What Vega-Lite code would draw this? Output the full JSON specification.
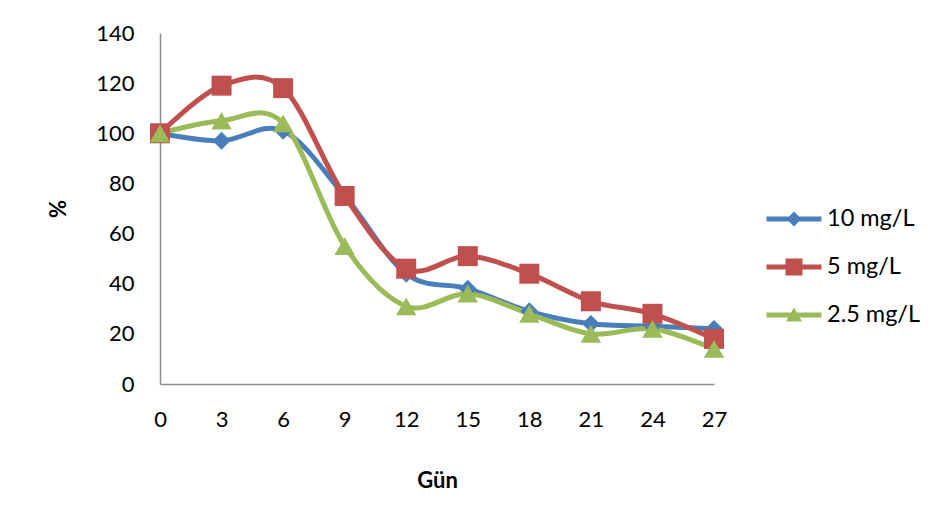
{
  "$schema": "https://vega.github.io/schema/vega-lite/v6.json",
  "width": 554,
  "height": 351,
  "autosize": {"type": "none"},
  "padding": {"left": 160, "top": 33, "right": 230, "bottom": 140},
  "background": "white",
  "config": {
    "view": {"stroke": null},
    "font": "Lato",
    "axis": {"labelFont": "Lato", "titleFont": "Lato", "labelColor": "black", "titleColor": "black", "grid": false, "ticks": false, "tickSize": 0, "domainColor": "#8c8c8c", "domainWidth": 1.5, "labelFontSize": 22, "titleFontSize": 22, "titleFontWeight": "bold"},
    "legend": {"labelFont": "Lato", "labelFontSize": 23.5, "labelColor": "black"}
  },
  "data": {
    "values": [
      {"day": 0, "series": "10 mg/L", "value": 100},
      {"day": 3, "series": "10 mg/L", "value": 97},
      {"day": 6, "series": "10 mg/L", "value": 101},
      {"day": 9, "series": "10 mg/L", "value": 75},
      {"day": 12, "series": "10 mg/L", "value": 44},
      {"day": 15, "series": "10 mg/L", "value": 38},
      {"day": 18, "series": "10 mg/L", "value": 29},
      {"day": 21, "series": "10 mg/L", "value": 24},
      {"day": 24, "series": "10 mg/L", "value": 23},
      {"day": 27, "series": "10 mg/L", "value": 22},
      {"day": 0, "series": "5 mg/L", "value": 100},
      {"day": 3, "series": "5 mg/L", "value": 119},
      {"day": 6, "series": "5 mg/L", "value": 118},
      {"day": 9, "series": "5 mg/L", "value": 75},
      {"day": 12, "series": "5 mg/L", "value": 46},
      {"day": 15, "series": "5 mg/L", "value": 51},
      {"day": 18, "series": "5 mg/L", "value": 44},
      {"day": 21, "series": "5 mg/L", "value": 33},
      {"day": 24, "series": "5 mg/L", "value": 28},
      {"day": 27, "series": "5 mg/L", "value": 18},
      {"day": 0, "series": "2.5 mg/L", "value": 100},
      {"day": 3, "series": "2.5 mg/L", "value": 105},
      {"day": 6, "series": "2.5 mg/L", "value": 104},
      {"day": 9, "series": "2.5 mg/L", "value": 55},
      {"day": 12, "series": "2.5 mg/L", "value": 31},
      {"day": 15, "series": "2.5 mg/L", "value": 36},
      {"day": 18, "series": "2.5 mg/L", "value": 28},
      {"day": 21, "series": "2.5 mg/L", "value": 20},
      {"day": 24, "series": "2.5 mg/L", "value": 22},
      {"day": 27, "series": "2.5 mg/L", "value": 14}
    ]
  },
  "encoding": {
    "x": {"field": "day", "type": "quantitative", "scale": {"domain": [0, 27], "nice": false, "zero": false},
      "axis": {"title": "Gün", "values": [0, 3, 6, 9, 12, 15, 18, 21, 24, 27], "labelPadding": 25, "titleBaseline": "middle", "titleY": 96, "labelFlush": false, "labelOverlap": false}},
    "y": {"field": "value", "type": "quantitative", "scale": {"domain": [0, 140], "nice": false},
      "axis": {"title": "%", "values": [0, 20, 40, 60, 80, 100, 120, 140], "labelPadding": 26, "titleBaseline": "middle", "titleX": -102, "titleAngle": -90, "labelFlush": false, "labelOverlap": false}}
  },
  "layer": [
    {
      "mark": {"type": "point", "filled": true, "strokeWidth": 0, "size": 0, "opacity": 1},
      "encoding": {
        "color": {"field": "series", "type": "nominal", "scale": {"domain": ["10 mg/L", "5 mg/L", "2.5 mg/L"], "range": ["#4A7EBB", "#C0504D", "#9BBB59"]},
          "legend": {"title": null, "orient": "none", "legendX": 614, "legendY": 166, "padding": 0, "symbolSize": 1600, "symbolStrokeWidth": 0, "symbolOpacity": 1, "labelOffset": 13, "rowPadding": 16}},
        "shape": {"field": "series", "type": "nominal", "scale": {"domain": ["10 mg/L", "5 mg/L", "2.5 mg/L"], "range": [
          "M-1.375,-0.12H1.375V0.12H-1.375Z M0,-0.375L0.375,0L0,0.375L-0.375,0Z",
          "M-1.375,-0.12H1.375V0.12H-1.375Z M-0.425,-0.425H0.425V0.425H-0.425Z",
          "M-1.375,-0.12H1.375V0.12H-1.375Z M0,-0.375L0.4,0.325H-0.4Z"
        ]}}
      }
    },
    {
      "mark": {"type": "line", "interpolate": "cardinal", "strokeWidth": 5, "strokeCap": "round", "strokeJoin": "round"},
      "encoding": {
        "stroke": {"field": "series", "type": "nominal", "scale": {"domain": ["10 mg/L", "5 mg/L", "2.5 mg/L"], "range": ["#4A7EBB", "#C0504D", "#9BBB59"]}, "legend": null},
        "order": {"field": "day"}
      }
    },
    {
      "transform": [{"filter": "datum.series === '10 mg/L'"}],
      "mark": {"type": "point", "shape": "diamond", "filled": true, "size": 320, "color": "#4A7EBB", "opacity": 1, "strokeWidth": 0}
    },
    {
      "transform": [{"filter": "datum.series === '5 mg/L'"}],
      "mark": {"type": "point", "shape": "square", "filled": true, "size": 400, "color": "#C0504D", "opacity": 1, "strokeWidth": 0}
    },
    {
      "transform": [{"filter": "datum.series === '2.5 mg/L'"}],
      "mark": {"type": "point", "shape": "triangle-up", "filled": true, "size": 420, "color": "#9BBB59", "opacity": 1, "strokeWidth": 0}
    }
  ]
}
